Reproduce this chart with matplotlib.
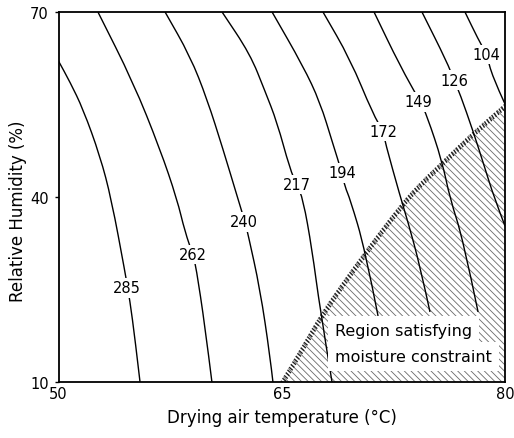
import matplotlib
matplotlib.use("Agg")
import matplotlib.pyplot as plt
import matplotlib.patheffects as pe
from matplotlib.patches import Polygon, PathPatch
from matplotlib.path import Path

# ---- data ----
contour_levels = [285, 262, 240, 217, 194, 172, 149, 126, 104]

c285_T = [50.0, 50.77, 51.65, 52.79, 53.55, 54.47, 54.80, 55.14, 55.48]
c285_RH = [62.06, 58.66, 54.28, 46.67, 39.70, 27.87, 23.18, 17.02, 10.0]

c262_T = [52.65, 55.01, 56.82, 57.96, 58.50, 59.04, 59.24, 59.84, 60.31]
c262_RH = [70.0, 58.66, 47.80, 39.70, 34.36, 30.63, 28.68, 19.13, 10.0]

c240_T = [57.16, 58.84, 59.98, 61.05, 62.06, 62.53, 62.73, 63.54, 64.21, 64.41]
c240_RH = [70.0, 62.87, 55.90, 47.80, 39.70, 35.98, 34.03, 25.12, 14.27, 10.0]

c217_T = [60.99, 62.87, 63.87, 64.68, 65.55, 66.02, 66.43, 67.03, 67.57, 68.38]
c217_RH = [70.0, 63.20, 57.20, 52.18, 44.56, 41.97, 39.70, 31.60, 21.88, 10.0]

c194_T = [64.35, 66.43, 67.57, 68.44, 69.05, 69.25, 69.59, 70.59, 71.47]
c194_RH = [70.0, 61.25, 55.42, 48.61, 43.92, 41.65, 39.70, 31.60, 20.75]

c172_T = [67.77, 69.59, 71.13, 71.81, 71.94, 72.95, 73.48, 74.29, 74.96]
c172_RH = [70.0, 62.39, 53.47, 50.72, 48.94, 40.19, 35.98, 28.85, 21.40]

c149_T = [71.20, 72.95, 74.33, 74.76, 75.77, 76.31, 77.18, 78.19]
c149_RH = [70.0, 61.25, 55.37, 53.15, 45.86, 39.70, 33.22, 21.40]

c126_T = [74.42, 76.10, 76.57, 76.98, 77.85, 78.52, 79.30, 80.0]
c126_RH = [70.0, 61.90, 58.98, 56.71, 50.72, 45.70, 39.70, 35.33]

c104_T = [77.31, 78.19, 78.79, 79.13, 80.0]
c104_RH = [70.0, 65.63, 63.03, 59.63, 55.09]

curves_T = [c285_T, c262_T, c240_T, c217_T, c194_T, c172_T, c149_T, c126_T, c104_T]
curves_RH = [c285_RH, c262_RH, c240_RH, c217_RH, c194_RH, c172_RH, c149_RH, c126_RH, c104_RH]

label_T = [54.58, 59.04, 62.46, 66.00, 69.05, 71.81, 74.15, 76.57, 78.77]
label_RH = [25.28, 30.66, 35.98, 42.00, 43.92, 50.64, 55.42, 58.98, 63.07]

# moisture constraint boundary
bound_T = [64.88, 66.23, 67.70, 70.26, 72.95, 74.29, 75.77, 77.85, 80.0]
bound_RH = [10.0, 15.40, 21.56, 30.30, 38.89, 42.46, 45.86, 50.72, 55.2]

x_ticks = [50, 65, 80]
y_ticks = [10, 40, 70]


def smooth_path(xs, ys):
    """Quadratic-Bezier path using the read points as control points."""
    pts = list(zip(xs, ys))
    verts = [pts[0]]
    codes = [Path.MOVETO]
    if len(pts) == 2:
        verts.append(pts[1]); codes.append(Path.LINETO)
        return Path(verts, codes)
    mid = lambda a, b: ((a[0] + b[0]) / 2, (a[1] + b[1]) / 2)
    verts.append(mid(pts[0], pts[1])); codes.append(Path.LINETO)
    for i in range(1, len(pts) - 1):
        end = mid(pts[i], pts[i + 1]) if i < len(pts) - 2 else pts[-1]
        verts += [pts[i], end]
        codes += [Path.CURVE3, Path.CURVE3]
    return Path(verts, codes)


# ---- figure ----
W, H = 514, 439
fig = plt.figure(figsize=(W / 100, H / 100), dpi=100)
ax = fig.add_axes([58.5 / W, 1 - 383.3 / H, (505 - 58.5) / W, (383.3 - 13) / H])
ax.set_xlim(50, 80)
ax.set_ylim(10, 70)

FS = 10.5

# hatched region
plt.rcParams['hatch.linewidth'] = 0.6
poly_pts = list(zip(bound_T, bound_RH)) + [(80, 10)]
region = Polygon(poly_pts, closed=True, facecolor='none', edgecolor='#6a6a6a',
                 hatch='\\\\\\\\\\', linewidth=0, zorder=1)
ax.add_patch(region)

# boundary drawn as ticked stroke
ax.add_patch(PathPatch(smooth_path(bound_T, bound_RH), facecolor='none', edgecolor='none',
                       zorder=2,
                       path_effects=[pe.withTickedStroke(angle=-100, spacing=2.3, length=1.5,
                                                         linewidth=1.0, foreground='#222222')]))

# contour curves
for T, RH in zip(curves_T, curves_RH):
    ax.add_patch(PathPatch(smooth_path(T, RH), facecolor='none', edgecolor='black',
                           lw=1.0, zorder=3))

# contour labels
for lev, lt, lr in zip(contour_levels, label_T, label_RH):
    ax.text(lt, lr, str(lev), ha='center', va='center', fontsize=FS, zorder=5,
            bbox=dict(boxstyle='square,pad=0.15', facecolor='white', edgecolor='none'))

# region text (white background per line)
box = dict(boxstyle='square,pad=0.42', facecolor='white', edgecolor='none')
ax.text(68.58, 18.37, "Region satisfying", ha='left', va='center', fontsize=11.5,
        zorder=5, bbox=box)
ax.text(68.58, 14.19, "moisture constraint", ha='left', va='center', fontsize=11.5,
        zorder=6, bbox=box)

# axes styling
ax.set_xticks(x_ticks)
ax.set_yticks(y_ticks)
ax.set_xticklabels([str(v) for v in x_ticks], fontsize=FS)
ax.set_yticklabels([str(v) for v in y_ticks], fontsize=FS)
ax.tick_params(axis='x', length=0, pad=3)
ax.tick_params(axis='y', length=3, width=1, direction='out', pad=4)
for s in ax.spines.values():
    s.set_linewidth(1.3)

fig.text(281.7 / W, 1 - 417.7 / H, "Drying air temperature (°C)", ha='center', va='center',
         fontsize=12)
fig.text(18 / W, 1 - 211 / H, "Relative Humidity (%)", ha='center', va='center',
         rotation=90, fontsize=12)

fig.savefig("out.png", dpi=100)
